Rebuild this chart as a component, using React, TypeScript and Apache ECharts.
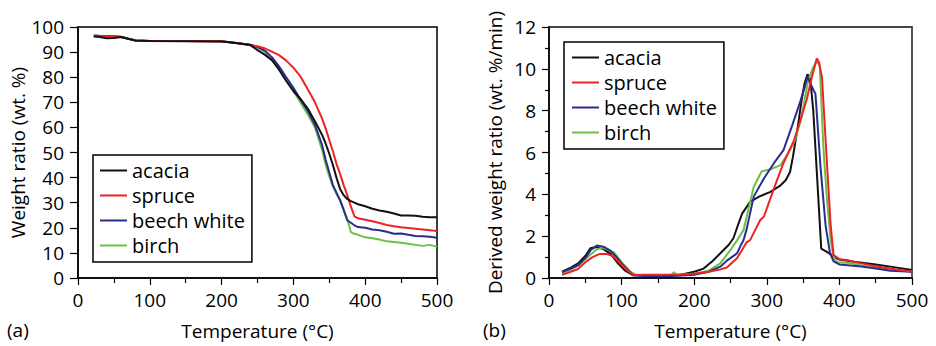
import React, { useEffect, useRef } from "react";
import * as echarts from "echarts";

const seriesNames = ["acacia", "spruce", "beech white", "birch"];
const seriesColors = ["#111111", "#ee2226", "#2b2d8e", "#6cbf48"];

// (a) TGA: weight ratio (wt. %) vs temperature (°C)
const tgaTemp = [22, 30, 40, 50, 60, 70, 80, 100, 150, 200, 220, 240, 250, 260, 270, 280, 290, 300, 310, 320, 330, 340, 345, 350, 355, 360, 365, 370, 375, 380, 385, 390, 400, 410, 420, 430, 440, 450, 460, 470, 480, 490, 500];
const acaciaTga = [96.2, 96.0, 95.5, 95.6, 96.0, 95.3, 94.6, 94.4, 94.3, 94.2, 93.6, 92.8, 90.8, 89.0, 86.8, 83.0, 78.5, 74.5, 71.3, 67.5, 62.5, 57.0, 53.5, 49.5, 45.0, 40.0, 35.5, 33.0, 31.5, 30.6, 30.0, 29.4, 28.6, 27.6, 26.9, 26.4, 25.7, 24.9, 24.9, 24.8, 24.4, 24.2, 24.2];
const spruceTga = [96.5, 96.4, 96.3, 96.2, 96.0, 95.3, 94.6, 94.4, 94.4, 94.3, 93.6, 92.8, 92.3, 91.5, 90.2, 88.8, 86.6, 83.8, 80.2, 75.2, 70.0, 63.5, 59.5, 55.0, 50.5, 45.5, 41.5, 37.0, 33.0, 28.5, 24.6, 23.8, 23.2, 22.6, 21.9, 21.1, 20.6, 20.2, 19.9, 19.6, 19.3, 19.0, 18.7];
const beechTga = [96.6, 96.5, 96.4, 96.3, 96.1, 95.3, 94.6, 94.4, 94.4, 94.3, 93.6, 92.9, 92.0, 90.6, 88.0, 84.3, 80.0, 75.8, 71.0, 66.5, 61.0, 53.0, 47.0, 42.0, 37.0, 34.0, 31.0, 27.0, 23.0, 22.0, 21.0, 20.3, 20.0, 19.3, 19.0, 18.4, 17.6, 17.7, 17.2, 16.7, 16.6, 16.4, 16.0];
const birchTga = [96.5, 96.4, 96.3, 96.2, 96.0, 95.3, 94.6, 94.4, 94.4, 94.3, 93.6, 92.9, 92.0, 90.2, 87.2, 83.6, 79.0, 74.5, 69.8, 65.2, 60.0, 51.0, 45.0, 40.5, 36.5, 33.5, 31.0, 27.5, 23.5, 18.3, 17.6, 17.2, 16.2, 15.8, 15.3, 14.6, 14.3, 14.0, 13.6, 13.2, 12.8, 13.2, 12.5];

// (b) DTG: derived weight ratio (wt. %/min) vs temperature (°C)
const acaciaDtgT = [18, 30, 40, 50, 57, 65, 75, 85, 95, 105, 115, 130, 150, 180, 200, 213, 225, 236, 248, 254, 260, 266, 277, 290, 305, 318, 326, 332, 336, 342, 348, 352, 356, 360, 364, 369, 375, 385, 393, 400, 420, 450, 475, 500];
const acaciaDtgV = [0.3, 0.5, 0.7, 1.05, 1.42, 1.48, 1.38, 1.15, 0.7, 0.35, 0.15, 0.13, 0.13, 0.15, 0.3, 0.45, 0.8, 1.18, 1.6, 1.9, 2.5, 3.08, 3.64, 3.9, 4.12, 4.4, 4.67, 5.07, 5.8, 7.06, 8.5, 9.3, 9.74, 9.5, 8.0, 5.0, 1.4, 1.2, 1.0, 0.88, 0.78, 0.65, 0.52, 0.38];
const spruceDtgT = [18, 30, 40, 50, 60, 70, 80, 88, 96, 107, 116, 130, 150, 180, 200, 220, 235, 245, 259, 272, 277, 291, 296, 309, 323, 337, 345, 355, 362, 369, 372, 376, 383, 388, 392, 400, 410, 430, 460, 500];
const spruceDtgV = [0.15, 0.3, 0.43, 0.75, 1.0, 1.15, 1.15, 1.05, 0.78, 0.38, 0.14, 0.15, 0.15, 0.17, 0.2, 0.3, 0.4, 0.5, 0.94, 1.7, 1.81, 2.77, 2.93, 4.2, 5.5, 6.54, 7.4, 8.53, 9.6, 10.5, 10.3, 9.6, 5.4, 2.5, 1.1, 0.9, 0.86, 0.7, 0.5, 0.3];
const beechDtgT = [18, 30, 40, 50, 58, 66, 75, 85, 93, 100, 107, 116, 130, 150, 170, 200, 220, 236, 245, 259, 264, 268, 272, 282, 296, 310, 323, 335, 346, 352, 356, 360, 367, 374, 381, 387, 392, 400, 430, 450, 470, 500];
const beechDtgV = [0.28, 0.45, 0.6, 0.95, 1.35, 1.55, 1.5, 1.3, 1.0, 0.7, 0.45, 0.12, 0.1, 0.1, 0.1, 0.15, 0.3, 0.54, 0.83, 1.18, 1.55, 1.82, 2.3, 3.89, 4.76, 5.5, 6.11, 7.3, 8.42, 9.1, 9.62, 9.3, 8.8, 5.3, 2.5, 1.2, 0.8, 0.65, 0.55, 0.45, 0.35, 0.3];
const birchDtgT = [18, 30, 40, 55, 65, 73, 82, 90, 100, 112, 121, 150, 168, 172, 176, 200, 213, 220, 236, 250, 259, 268, 282, 293, 305, 319, 330, 339, 348, 357, 363, 369, 373, 378, 383, 388, 392, 397, 415, 430, 460, 500];
const birchDtgV = [0.22, 0.4, 0.6, 1.05, 1.35, 1.45, 1.35, 1.2, 0.76, 0.3, 0.14, 0.12, 0.12, 0.28, 0.12, 0.22, 0.3, 0.35, 0.7, 1.34, 1.8, 2.29, 4.36, 5.1, 5.2, 5.4, 6.0, 6.6, 7.7, 9.46, 10.0, 10.4, 10.1, 6.2, 3.7, 1.8, 1.0, 0.75, 0.72, 0.6, 0.45, 0.3];

const xTicks = { min: 0, max: 500, interval: 100 };
const tgaTicks = { min: 0, max: 100, interval: 10 };
const dtgTicks = { min: 0, max: 12, interval: 2 };

const FONT = "'Open Sans', 'Noto Sans', sans-serif";

const zip = (xs: number[], ys: number[]) => xs.map((x, i) => [x, ys[i]]);

export default function App() {
  const ref = useRef<HTMLDivElement>(null);
  useEffect(() => {
    document.body.style.margin = "0";
    if (!ref.current) return;
    const chart = echarts.init(ref.current, undefined, { renderer: "svg" });
    const axisLine = { show: true, lineStyle: { color: "#000", width: 1.5 } };
    const label = { color: "#000", fontSize: 19, fontFamily: FONT };
    const nameStyle = { color: "#000", fontSize: 19, fontFamily: FONT };
    const xAxisBase = (gridIndex: number) => ({
      type: "value",
      gridIndex,
      ...xTicks,
      name: "Temperature (°C)",
      nameLocation: "middle",
      nameGap: 43,
      nameTextStyle: nameStyle,
      axisLine,
      axisTick: { show: true, length: 7, lineStyle: { color: "#000", width: 1.2 } },
      minorTick: { show: true, splitNumber: 2, length: 5, lineStyle: { color: "#000", width: 1.2 } },
      axisLabel: { ...label, margin: 12 },
      splitLine: { show: false },
    });
    const tga = [acaciaTga, spruceTga, beechTga, birchTga];
    const dtg = [
      zip(acaciaDtgT, acaciaDtgV),
      zip(spruceDtgT, spruceDtgV),
      zip(beechDtgT, beechDtgV),
      zip(birchDtgT, birchDtgV),
    ];
    const series: any[] = [];
    seriesNames.forEach((name, i) => {
      series.push({
        type: "line",
        name,
        xAxisIndex: 0,
        yAxisIndex: 0,
        data: zip(tgaTemp, tga[i]),
        symbol: "none",
        lineStyle: { color: seriesColors[i], width: 2 },
        itemStyle: { color: seriesColors[i] },
        z: 10 - i,
      });
    });
    seriesNames.forEach((name, i) => {
      series.push({
        type: "line",
        name,
        xAxisIndex: 1,
        yAxisIndex: 1,
        data: dtg[i],
        symbol: "none",
        lineStyle: { color: seriesColors[i], width: 2 },
        itemStyle: { color: seriesColors[i] },
        z: i === 0 ? 6 : 10 - i,
      });
    });
    const legendBase = {
      orient: "vertical",
      icon: "rect",
      itemWidth: 27,
      itemHeight: 2,
      itemGap: 0,
      borderColor: "#000",
      borderWidth: 1.5,
      borderRadius: 0,
      backgroundColor: "#fff",
      selectedMode: false,
      data: seriesNames,
      textStyle: { color: "#000", fontSize: 20, fontFamily: FONT, lineHeight: 25 },
    };
    chart.setOption({
      animation: false,
      backgroundColor: "#fff",
      grid: [
        { left: 78, top: 27, width: 359, height: 251, show: true, borderColor: "#000", borderWidth: 1.5, backgroundColor: "transparent" },
        { left: 549, top: 27, width: 363, height: 251, show: true, borderColor: "#444", borderWidth: 1.8, backgroundColor: "transparent" },
      ],
      xAxis: [xAxisBase(0), xAxisBase(1)],
      yAxis: [
        {
          type: "value",
          gridIndex: 0,
          ...tgaTicks,
          name: "Weight ratio (wt. %)",
          nameLocation: "middle",
          nameGap: 51,
          nameTextStyle: nameStyle,
          axisLine,
          axisTick: { show: true, length: 8, lineStyle: { color: "#000", width: 1.2 } },
          axisLabel: { ...label, margin: 14 },
          splitLine: { show: false },
        },
        {
          type: "value",
          gridIndex: 1,
          ...dtgTicks,
          name: "Derived weight ratio (wt. %/min)",
          nameLocation: "middle",
          nameGap: 45,
          nameTextStyle: nameStyle,
          axisLine,
          axisTick: { show: true, length: 7, lineStyle: { color: "#000", width: 1.2 } },
          minorTick: { show: true, splitNumber: 2, length: 4, lineStyle: { color: "#000", width: 1.2 } },
          axisLabel: { ...label, margin: 13 },
          splitLine: { show: false },
        },
      ],
      legend: [
        { ...legendBase, left: 93, top: 155, padding: [3, 7, 4, 7] },
        { ...legendBase, left: 564, top: 42, padding: [3, 7, 4, 8] },
      ],
      graphic: [
        { type: "text", left: 7, top: 320, style: { text: "(a)", fontSize: 19, fontFamily: FONT, fill: "#000" } },
        { type: "text", left: 483, top: 320, style: { text: "(b)", fontSize: 19, fontFamily: FONT, fill: "#000" } },
      ],
      series,
    });
    return () => chart.dispose();
  }, []);
  return <div ref={ref} style={{ width: 936, height: 346 }} />;
}
